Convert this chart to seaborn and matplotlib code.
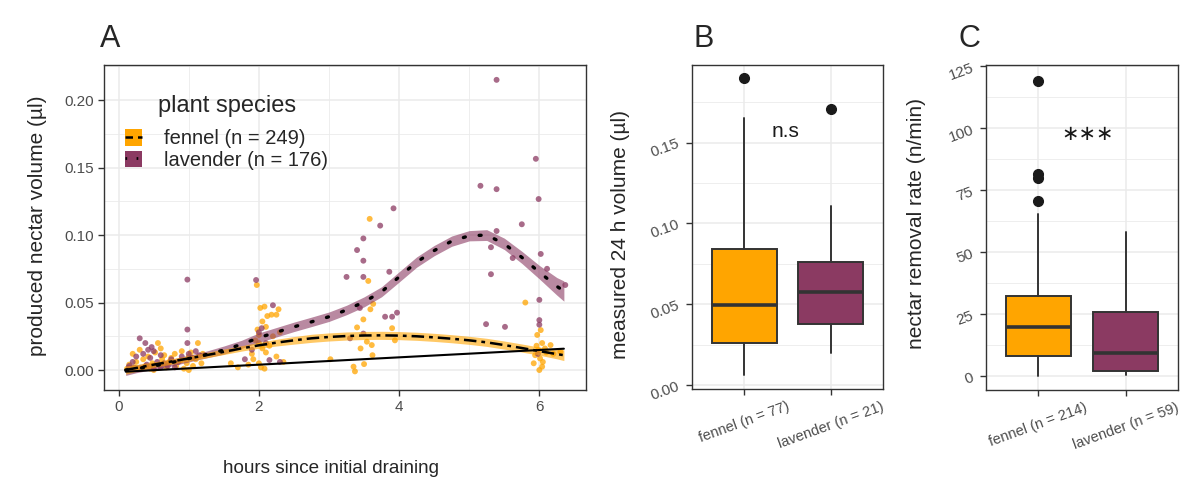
import pandas as pd
import matplotlib.pyplot as plt
from matplotlib.patches import Patch
from matplotlib.lines import Line2D
from matplotlib.ticker import MultipleLocator
import seaborn as sns

# -----------------------------------------------------------------------------
# DATA
# -----------------------------------------------------------------------------

FENNEL = "#FFA500"
LAVENDER = "#8B3A62"

# panel A: individual measurements
fennel_x = [0.12, 0.15, 0.2, 0.22, 0.25, 0.3, 0.3, 0.35, 0.38, 0.42, 0.45, 0.48,
            0.5, 0.52, 0.56, 0.58, 0.6, 0.62, 0.65, 0.68, 0.72, 0.75, 0.8, 0.82,
            0.88, 0.9, 0.93, 0.97, 1.0, 1.0, 1.03, 1.06, 1.1, 1.13, 1.18, 1.2,
            1.6, 1.7, 1.85, 1.9, 1.92, 1.95, 1.97, 1.98, 2.0, 2.0, 2.0, 2.02,
            2.03, 2.05, 2.05, 2.08, 2.08, 2.1, 2.1, 2.12, 2.15, 2.18, 2.2, 2.25,
            2.25, 2.28, 2.3, 2.35,
            3.02, 3.35, 3.37, 3.4, 3.45, 3.49, 3.5, 3.54, 3.56, 3.58, 3.59, 3.61,
            3.62, 3.63, 3.9, 3.94,
            5.8, 5.92, 5.94, 5.97, 5.99, 6.0, 6.01, 6.02, 6.04, 6.04, 6.08, 6.1,
            6.16, 6.2, 6.3, 5.96, 6.05]
fennel_y = [0.001, 0.004, 0.012, 0.002, 0.006, 0.001, 0.015, 0.008, 0.003, 0.010, 0.001, 0.005,
            0.0, 0.013, 0.020, 0.004, 0.016, 0.008, 0.011, 0.002, 0.006, 0.009, 0.012, 0.003,
            0.007, 0.014, 0.001, 0.005, 0.0, 0.010, 0.013, 0.003, 0.008, 0.020, 0.005, 0.012,
            0.005, 0.002, 0.004, 0.012, 0.008, 0.022, 0.063, 0.030, 0.005, 0.020, 0.026, 0.046,
            0.002, 0.016, 0.036, 0.001, 0.047, 0.013, 0.032, 0.040, 0.018, 0.041, 0.025, 0.010,
            0.041, 0.045, 0.028, 0.006,
            0.008, 0.0025, -0.001, 0.0316, 0.016, 0.0375, 0.0044, 0.021, 0.066, 0.112, 0.045, 0.0185,
            0.011, 0.049, 0.031, 0.022,
            0.050, 0.005, 0.011, 0.026, 0.0148, 0.0, 0.0086, 0.0296, 0.020, 0.0025, 0.016, 0.013,
            0.0185, 0.012, 0.0136, 0.018, 0.006]

lavender_x = [0.15, 0.2, 0.25, 0.3, 0.33, 0.35, 0.38, 0.4, 0.42, 0.45, 0.47, 0.5,
              0.5, 0.55, 0.6, 0.6, 0.65, 0.7, 0.75, 0.8, 0.85, 0.9, 0.98, 0.98,
              0.98, 1.0, 1.05, 1.1, 1.15,
              1.8, 1.9, 1.96, 2.0, 2.04, 2.1, 2.15, 2.2, 2.3,
              3.25, 3.3, 3.4, 3.44, 3.49, 3.49, 3.49, 3.49, 3.73, 3.8, 3.86, 3.9,
              3.92, 3.97,
              5.16, 5.24, 5.31, 5.31, 5.39, 5.39, 5.39, 5.51, 5.62, 5.75, 5.95, 5.99,
              6.0, 6.0, 6.0, 6.02, 6.11, 6.37, 5.98]
lavender_y = [0.003, 0.006, 0.010, 0.0235, 0.001, 0.012, 0.020, 0.004, 0.015, 0.009, 0.017, 0.001,
              0.014, 0.006, 0.002, 0.011, 0.005, 0.003, 0.008, 0.002, 0.006, 0.010, 0.067, 0.030,
              0.020, 0.012, 0.009, 0.014, 0.011,
              0.008, 0.015, 0.0667, 0.028, 0.031, 0.020, 0.0074, 0.048, 0.006,
              0.069, 0.0235, 0.0889, 0.046, 0.0975, 0.081, 0.069, 0.027, 0.107, 0.0395, 0.0728, 0.0395,
              0.1198, 0.0425,
              0.1365, 0.034, 0.091, 0.071, 0.215, 0.134, 0.103, 0.032, 0.083, 0.108, 0.1565, 0.1267,
              0.052, 0.037, 0.0336, 0.086, 0.075, 0.063, 0.012]

# panel A: smoothed fits with confidence band half widths
fit_x = [0.1, 0.25, 0.5, 0.75, 1.0, 1.25, 1.5, 1.75, 2.0, 2.25, 2.5, 2.75, 3.0, 3.25,
         3.5, 3.75, 4.0, 4.25, 4.5, 4.75, 5.0, 5.25, 5.5, 5.75, 6.0, 6.25, 6.35]
fennel_fit = [0.0, 0.0015, 0.004, 0.0063, 0.0086, 0.011, 0.0135, 0.016, 0.0183, 0.0203,
              0.022, 0.0235, 0.0245, 0.0252, 0.0256, 0.0257, 0.0255, 0.025, 0.0242, 0.0232,
              0.022, 0.0205, 0.0185, 0.0163, 0.014, 0.0118, 0.011]
fennel_ci = [0.003, 0.0025, 0.002, 0.002, 0.002, 0.002, 0.002, 0.002, 0.0022, 0.0025,
             0.0028, 0.003, 0.003, 0.003, 0.003, 0.003, 0.003, 0.003, 0.003, 0.003,
             0.003, 0.003, 0.003, 0.003, 0.003, 0.0035, 0.004]
lavender_fit = [0.0, 0.001, 0.003, 0.0055, 0.0085, 0.0115, 0.0148, 0.019, 0.024, 0.028,
                0.032, 0.0357, 0.0395, 0.0445, 0.0505, 0.058, 0.069, 0.080, 0.0885, 0.0955,
                0.0995, 0.1, 0.0935, 0.0835, 0.0725, 0.062, 0.0585]
lavender_ci = [0.004, 0.003, 0.0025, 0.0025, 0.0025, 0.0025, 0.003, 0.003, 0.0035, 0.0035,
               0.0035, 0.0035, 0.0035, 0.0035, 0.0037, 0.0037, 0.0038, 0.0038, 0.0038, 0.0038,
               0.0038, 0.004, 0.0042, 0.0045, 0.005, 0.0065, 0.0075]
overall_x = [0.1, 6.35]
overall_fit = [-0.0012, 0.0158]

# panel B: 24 h volume boxplot summary
b_labels = ["fennel (n = 77)", "lavender (n = 21)"]
b_whislo = [0.0062, 0.0197]
b_q1 = [0.0262, 0.0376]
b_med = [0.0492, 0.0578]
b_q3 = [0.0841, 0.0758]
b_whishi = [0.165, 0.1105]
b_fliers = [[0.1897], [0.171]]

# panel C: removal rate boxplot summary
c_labels = ["fennel (n = 214)", "lavender (n = 59)"]
c_whislo = [0.0, 0.3]
c_q1 = [8.0, 2.0]
c_med = [19.8, 9.5]
c_q3 = [32.3, 25.8]
c_whishi = [65.4, 58.0]
c_fliers = [[119.2, 81.5, 80.0, 70.5], []]

# -----------------------------------------------------------------------------
# SETUP
# -----------------------------------------------------------------------------

sns.set_theme(style="whitegrid")
plt.rcParams["font.family"] = ["Liberation Sans", "DejaVu Sans"]

GRID = "#EBEBEB"
TICK = "#4D4D4D"
EDGE = "#333333"


def style_axes(ax):
    ax.set_facecolor("white")
    for s in ax.spines.values():
        s.set_color(EDGE)
        s.set_linewidth(1.0)
    ax.grid(True, which="major", color=GRID, linewidth=1.1)
    ax.grid(True, which="minor", color=GRID, linewidth=0.6)
    ax.set_axisbelow(True)
    ax.tick_params(which="major", direction="out", length=4, width=1.0,
                   color=EDGE, labelcolor=TICK, bottom=True, left=True)
    ax.tick_params(which="minor", length=0)


fig = plt.figure(figsize=(11.84, 4.88), dpi=100)
axA = fig.add_axes([0.0878, 0.2008, 0.4071, 0.666])
axB = fig.add_axes([0.5845, 0.2029, 0.1613, 0.664])
axC = fig.add_axes([0.8328, 0.2008, 0.1622, 0.666])

# -----------------------------------------------------------------------------
# PANEL A
# -----------------------------------------------------------------------------

pts = pd.concat([
    pd.DataFrame({"hours": fennel_x, "volume": fennel_y, "species": "fennel"}),
    pd.DataFrame({"hours": lavender_x, "volume": lavender_y, "species": "lavender"}),
])
sns.scatterplot(data=pts, x="hours", y="volume", hue="species",
                palette={"fennel": FENNEL, "lavender": LAVENDER},
                s=18, alpha=0.75, linewidth=0, legend=False, ax=axA)

fen_lo = [m - c for m, c in zip(fennel_fit, fennel_ci)]
fen_hi = [m + c for m, c in zip(fennel_fit, fennel_ci)]
lav_lo = [m - c for m, c in zip(lavender_fit, lavender_ci)]
lav_hi = [m + c for m, c in zip(lavender_fit, lavender_ci)]

axA.fill_between(fit_x, lav_lo, lav_hi, color=LAVENDER, alpha=0.6, linewidth=0)
axA.fill_between(fit_x, fen_lo, fen_hi, color=FENNEL, alpha=0.6, linewidth=0)
axA.plot(fit_x, lavender_fit, color="black", linewidth=2.4, linestyle=(0, (0.6, 4.2)),
         dash_capstyle="round")
axA.plot(fit_x, fennel_fit, color="black", linewidth=1.8, linestyle=(0, (5, 2, 1.5, 2)))
axA.plot(overall_x, overall_fit, color="black", linewidth=1.5)

style_axes(axA)
axA.set_xlim(-0.21, 6.665)
axA.set_ylim(-0.0148, 0.226)
axA.xaxis.set_major_locator(MultipleLocator(2))
axA.xaxis.set_minor_locator(MultipleLocator(1))
axA.yaxis.set_major_locator(MultipleLocator(0.05))
axA.yaxis.set_minor_locator(MultipleLocator(0.025))
axA.yaxis.set_major_formatter(plt.FuncFormatter(lambda v, p: f"{v:.2f}"))
axA.tick_params(axis="both", labelsize=11)
axA.set_xlabel("hours since initial draining", fontsize=13.6)
axA.set_ylabel("produced nectar volume (µl)", fontsize=15)
axA.xaxis.set_label_coords(0.471, -0.215)
axA.yaxis.set_label_coords(-0.118, 0.505)

handles = [
    (Patch(facecolor=FENNEL, edgecolor="none"),
     Line2D([], [], color="black", linewidth=1.8, linestyle=(0, (3, 2)))),
    (Patch(facecolor=LAVENDER, edgecolor="none"),
     Line2D([], [], color="black", linewidth=2.0, linestyle=(0, (0.6, 3.4)))),
]
leg = axA.legend(handles, ["fennel (n = 249)", "lavender (n = 176)"],
                 title="plant species", loc="upper left", bbox_to_anchor=(0.006, 0.965),
                 frameon=False, fontsize=14.5, title_fontsize=17,
                 handlelength=0.85, handleheight=0.9, handletextpad=1.1,
                 labelspacing=0.12)
leg._legend_box.sep = 9

# -----------------------------------------------------------------------------
# PANELS B AND C
# -----------------------------------------------------------------------------


def draw_box(ax, labels, whislo, q1, med, q3, whishi, fliers):
    stats = []
    for i in range(len(labels)):
        stats.append({"whislo": whislo[i], "q1": q1[i], "med": med[i], "q3": q3[i],
                      "whishi": whishi[i], "fliers": fliers[i], "label": labels[i]})
    bp = ax.bxp(stats, positions=[1, 2], widths=0.75, patch_artist=True,
                showcaps=False,
                boxprops={"edgecolor": EDGE, "linewidth": 1.4},
                medianprops={"color": EDGE, "linewidth": 2.6},
                whiskerprops={"color": EDGE, "linewidth": 1.4},
                flierprops={"marker": "o", "markerfacecolor": "#1A1A1A",
                            "markeredgecolor": "#1A1A1A", "markersize": 7})
    for patch, col in zip(bp["boxes"], [FENNEL, LAVENDER]):
        patch.set_facecolor(col)
    style_axes(ax)
    ax.set_xlim(0.4, 2.6)
    ax.set_xticks([1, 2])
    ax.set_xticklabels(labels, rotation=20, ha="center", fontsize=10.5)
    ax.tick_params(axis="y", labelsize=11, labelrotation=20)


draw_box(axB, b_labels, b_whislo, b_q1, b_med, b_q3, b_whishi, b_fliers)
axB.set_ylim(-0.0025, 0.198)
axB.yaxis.set_major_locator(MultipleLocator(0.05))
axB.yaxis.set_minor_locator(MultipleLocator(0.025))
axB.yaxis.set_major_formatter(plt.FuncFormatter(lambda v, p: f"{v:.2f}"))
axB.set_ylabel("measured 24 h volume (µl)", fontsize=15)
axB.yaxis.set_label_coords(-0.325, 0.477)
axB.text(1.48, 0.157, "n.s", ha="center", va="center", fontsize=15, color="#1A1A1A")

draw_box(axC, c_labels, c_whislo, c_q1, c_med, c_q3, c_whishi, c_fliers)
axC.set_ylim(-5.6, 125.5)
axC.yaxis.set_major_locator(MultipleLocator(25))
axC.yaxis.set_minor_locator(MultipleLocator(12.5))
axC.set_ylabel("nectar removal rate (n/min)", fontsize=15)
axC.yaxis.set_label_coords(-0.313, 0.512)
axC.text(1.56, 97.5, "\u2217\u2217\u2217", ha="center", va="center", fontsize=15,
         color="#1A1A1A", family=["DejaVu Sans"])

# panel letters
fig.text(100 / 1184, 1 - 47 / 488, "A", fontsize=22, va="baseline")
fig.text(693 / 1184, 1 - 47 / 488, "B", fontsize=22, va="baseline")
fig.text(958 / 1184, 1 - 47 / 488, "C", fontsize=22, va="baseline")

plt.savefig("out.png", dpi=100)
plt.close()
